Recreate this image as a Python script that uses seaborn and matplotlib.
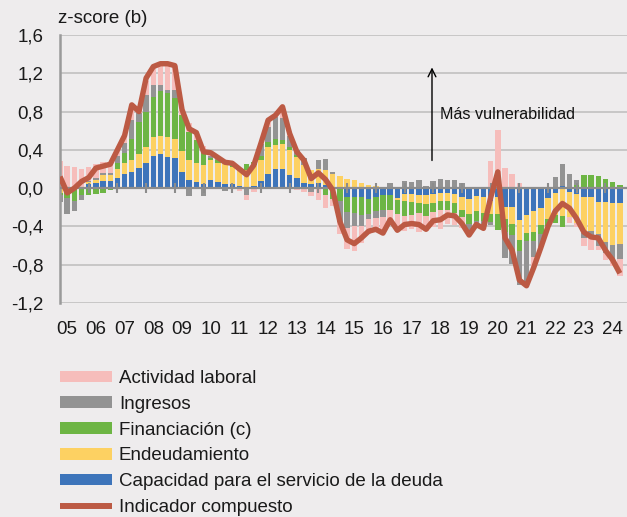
import numpy as np
import matplotlib
matplotlib.use("Agg")
import matplotlib.pyplot as plt
import seaborn as sns
from matplotlib.patches import Patch
from matplotlib.lines import Line2D

# Quarterly contributions, 2005 Q1 - 2024 Q3 (z-score)
capacidad = [0, 0, 0, 0, .04, .05, .07, .07, .11, .15,
             .17, .21, .26, .34, .36, .33, .31, .17, .08, .06,
             .04, .08, .06, .04, .04, .02, 0, .02, .07, .15,
             .20, .20, .14, .11, .05, .04, .05, .03, .01, 0,
             -.09, -.09, -.09, -.11, -.09, -.07, -.07, -.10, -.06, -.06,
             -.07, -.07, -.06, -.05, -.05, -.06, -.09, -.11, -.08, -.09,
             -.13, -.09, -.20, -.20, -.33, -.28, -.24, -.21, -.10, -.05,
             .02, -.04, -.06, -.09, -.09, -.14, -.14, -.16, -.16]
endeudamiento = [-.05, -.02, 0, 0, .02, .04, .07, .07, .09, .11,
                 .12, .15, .17, .19, .19, .20, .20, .22, .21, .20,
                 .20, .21, .20, .22, .18, .18, .19, .22, .22, .28,
                 .25, .26, .26, .22, .19, .15, .15, .16, .14, .13,
                 .10, .08, .05, .03, .02, 0, 0, -.02, -.07, -.08,
                 -.08, -.10, -.09, -.08, -.08, -.09, -.14, -.16, -.16, -.17,
                 -.14, -.18, -.12, -.17, -.21, -.19, -.22, -.17, -.22, -.23,
                 -.29, -.26, -.30, -.38, -.36, -.34, -.42, -.43, -.42]
financiacion = [-.02, -.08, -.13, -.07, -.07, -.06, -.05, -.02, .06, .11,
                .22, .33, .37, .42, .47, .46, .43, .37, .30, .24,
                .14, .03, .03, .03, .03, .01, .06, .03, .05, .05,
                .06, .04, .03, .02, 0, 0, 0, -.07, -.11, -.13,
                -.16, -.17, -.19, -.16, -.15, -.16, -.16, -.15, -.16, -.14,
                -.11, -.12, -.10, -.10, -.10, -.11, -.07, -.10, -.10, -.08,
                -.08, -.17, -.14, -.12, -.12, -.08, -.09, -.10, -.08, -.08,
                -.12, 0, .03, .14, .14, .13, .10, .06, .03]
ingresos = [-.07, -.17, -.11, -.05, .01, .02, .02, .02, .08, .10,
            .20, .09, .17, .13, .06, .04, .09, 0, -.08, 0,
            -.08, .02, .02, -.03, 0, 0, -.07, 0, .12, .16,
            .23, .23, .11, .05, .08, -.04, .09, .11, .02, -.22,
            -.17, -.14, -.12, -.05, -.07, -.07, .05, 0, .07, .06,
            .08, .02, .07, .10, .09, .09, .05, -.12, -.04, -.08,
            -.03, 0, -.27, -.30, -.35, -.44, -.17, -.14, 0, .12,
            .23, .15, .06, -.05, -.07, -.12, -.12, -.16, -.16]
actividad = [.28, .23, .22, .20, .15, .14, .11, .11, .05, .06,
             .15, .04, .15, .19, .22, .27, .25, .06, .09, .07,
             .06, .03, 0, 0, 0, -.03, -.05, -.04, .01, .07,
             .02, .12, .03, -.02, -.04, -.04, -.12, -.14, -.08, -.13,
             -.22, -.26, -.17, -.16, -.14, -.17, -.15, -.17, -.16, -.15,
             -.20, -.16, -.16, -.20, -.14, -.12, -.12, 0, 0, 0,
             .28, .61, .21, .15, .05, -.03, -.11, 0, 0, 0,
             0, -.06, -.05, -.08, -.13, -.05, -.07, -.06, -.18]
compuesto = [.12, -.05, 0, .07, .11, .21, .23, .25, .40, .55,
             .87, .80, 1.15, 1.27, 1.30, 1.30, 1.28, .82, .62, .58,
             .38, .37, .32, .27, .26, .20, .14, .24, .47, .71,
             .76, .85, .57, .38, .29, .10, .16, .09, -.02, -.35,
             -.54, -.58, -.52, -.45, -.43, -.47, -.33, -.44, -.38, -.37,
             -.38, -.43, -.34, -.33, -.28, -.29, -.37, -.49, -.38, -.42,
             -.10, .17, -.52, -.65, -.96, -1.02, -.83, -.62, -.40, -.24,
             -.16, -.21, -.32, -.46, -.51, -.52, -.65, -.75, -.89]
years = [f"{y:02d}" for y in range(5, 25)]

BG = "#EEECED"
C_PINK = "#F6BDBB"
C_GRAY = "#939393"
C_GREEN = "#6DB544"
C_YELLOW = "#FDD162"
C_BLUE = "#3D74BA"
C_LINE = "#BC5A44"
TXT = "#1A1A1A"

sns.set_theme(style="white")
plt.rcParams["font.family"] = ["Liberation Sans", "DejaVu Sans"]

fig = plt.figure(figsize=(6.27, 5.17), dpi=100, facecolor=BG)
ax = fig.add_axes([60 / 627, 1 - 303 / 517, 567 / 627, 268 / 517])
ax.set_facecolor(BG)

n = len(compuesto)
x = np.arange(n)

# diverging stacked bars: positives build upwards, negatives downwards
layers = [(capacidad, C_BLUE), (endeudamiento, C_YELLOW), (financiacion, C_GREEN),
          (ingresos, C_GRAY), (actividad, C_PINK)]
pos_base = np.zeros(n)
neg_base = np.zeros(n)
for vals, col in layers:
    v = np.asarray(vals, dtype=float)
    pos = np.clip(v, 0, None)
    neg = np.clip(v, None, 0)
    ax.bar(x, pos, bottom=pos_base, width=0.76, color=col, linewidth=0, zorder=2)
    ax.bar(x, neg, bottom=neg_base, width=0.76, color=col, linewidth=0, zorder=2)
    pos_base += pos
    neg_base += neg

ax.axhline(0, color="#8C8C8C", lw=1.6, zorder=3)
ax.vlines(np.arange(4, n, 4), -0.05, 0.05, color="#8C8C8C", lw=1.5, zorder=3)

sns.lineplot(x=x, y=compuesto, color=C_LINE, linewidth=3.9, ax=ax, zorder=4,
             solid_joinstyle="round", solid_capstyle="butt")

ax.set_xlim(0, 79)
ax.set_ylim(-1.2, 1.6)
yt = np.round(np.arange(-1.2, 1.61, 0.4), 1)
ax.set_yticks(yt)
ax.set_yticklabels([f"{v:.1f}".replace(".", ",").replace("-0,0", "0,0") for v in yt])
ax.set_xticks(np.arange(1, n + 1, 4)[:len(years)])
ax.set_xticklabels(years)
ax.tick_params(axis="y", length=0, pad=12, labelsize=13.5, labelcolor=TXT)
ax.tick_params(axis="x", length=0, pad=13, labelsize=13.5, labelcolor=TXT)
ax.yaxis.grid(True, color="#C4C4C4", lw=1.3)
ax.set_axisbelow(True)
for s in ["top", "right", "bottom"]:
    ax.spines[s].set_visible(False)
ax.spines["left"].set_color("#9A9A9A")
ax.spines["left"].set_linewidth(1.8)
ax.set_xlabel("")
ax.set_ylabel("")

ax.annotate("", xy=(51.83, 1.29), xytext=(51.83, 0.26),
            arrowprops=dict(arrowstyle="->", color="black", lw=1.0, mutation_scale=14),
            zorder=5)
ax.text(52.95, 0.77, "Más vulnerabilidad", fontsize=11.6, ha="left", va="center",
        color="#111111", zorder=5)

fig.text(58 / 627, 1 - 18.5 / 517, "z-score (b)", fontsize=13.5, ha="left", va="center",
         color=TXT)

handles = [Patch(facecolor=C_PINK, edgecolor="none"),
           Patch(facecolor=C_GRAY, edgecolor="none"),
           Patch(facecolor=C_GREEN, edgecolor="none"),
           Patch(facecolor=C_YELLOW, edgecolor="none"),
           Patch(facecolor=C_BLUE, edgecolor="none"),
           Line2D([0], [0], color=C_LINE, lw=4.3, solid_capstyle="butt")]
labels = ["Actividad laboral", "Ingresos", "Financiación (c)", "Endeudamiento",
          "Capacidad para el servicio de la deuda", "Indicador compuesto"]
fig.legend(handles, labels, loc="upper left", bbox_to_anchor=(60 / 627, 1 - 370 / 517),
           frameon=False, fontsize=13.5, handlelength=2.77, handleheight=0.56,
           handletextpad=0.37, labelspacing=0.47, borderpad=0, borderaxespad=0,
           labelcolor=TXT)

fig.savefig("out.png", dpi=100, facecolor=BG)
